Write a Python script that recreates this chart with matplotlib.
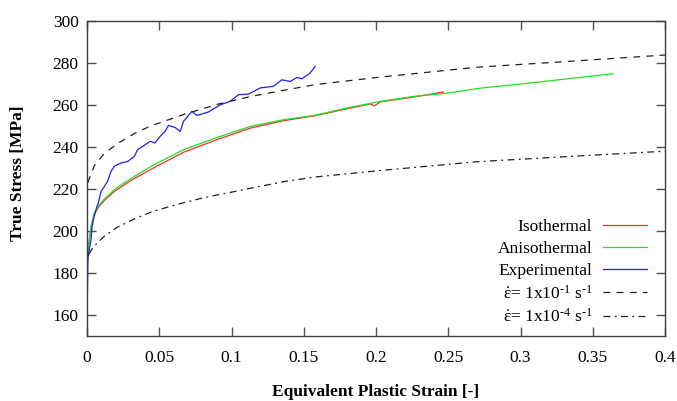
import matplotlib
matplotlib.use("Agg")
import matplotlib.pyplot as plt
from matplotlib.ticker import FuncFormatter

plt.rcParams['font.family'] = ['Liberation Serif', 'DejaVu Serif']
plt.rcParams['mathtext.fontset'] = 'custom'
plt.rcParams['mathtext.rm'] = 'Liberation Serif'
plt.rcParams['mathtext.it'] = 'Liberation Serif'
plt.rcParams['mathtext.bf'] = 'Liberation Serif:bold'

# ---------------- data ----------------
iso_strain = [0, 0.0028, 0.005, 0.0085, 0.012, 0.0189, 0.0258, 0.0327, 0.0465, 0.0668,
              0.0899, 0.113, 0.136, 0.157, 0.18, 0.196, 0.199, 0.203, 0.226, 0.2466]
iso_stress = [188, 202, 208, 211.8, 214.5, 218.8, 222, 225, 230.2, 237.5,
              243.5, 249, 252.5, 254.8, 258.2, 260.5, 259.6, 261.5, 263.8, 266.2]

aniso_strain = [0, 0.0028, 0.005, 0.0085, 0.012, 0.0189, 0.0258, 0.0327, 0.0465, 0.0668,
                0.0899, 0.113, 0.136, 0.157, 0.18, 0.203, 0.226, 0.249, 0.272, 0.311, 0.364]
aniso_stress = [186, 202.2, 208.6, 212.5, 215.2, 219.7, 222.9, 226, 231.6, 238.7,
                244.5, 249.8, 253, 255, 258.6, 261.7, 264.1, 265.6, 268, 270.8, 274.9]

exp_strain = [0, 0.0004, 0.0006, 0.0008, 0.0028, 0.0035, 0.005, 0.0069, 0.0078, 0.0097,
              0.012, 0.0142, 0.0166, 0.0189, 0.0235, 0.0281, 0.0327, 0.035, 0.0438, 0.047,
              0.0506, 0.054, 0.0564, 0.061, 0.0645, 0.0668, 0.0726, 0.076, 0.0841, 0.0922,
              0.099, 0.1048, 0.1118, 0.1198, 0.129, 0.1349, 0.1406, 0.1452, 0.1487, 0.1544, 0.1579]
exp_stress = [157.8, 175, 184.6, 187.9, 196, 202, 207, 211.7, 213.3, 218.9,
              221.2, 223.6, 228.4, 230.8, 232.4, 233.1, 235.5, 238.7, 242.7, 241.9,
              245, 247.4, 250.3, 249.3, 247.4, 252.2, 257, 255, 256.7, 260.1,
              261.7, 264.9, 265.2, 268.1, 268.9, 272.0, 271.2, 273.1, 272.5, 275.2, 278.4]

fast_strain = [0.0005, 0.005, 0.012, 0.018, 0.022, 0.033, 0.044, 0.067, 0.09, 0.113,
               0.136, 0.158, 0.203, 0.27, 0.334, 0.4]
fast_stress = [223, 231, 237, 240, 242, 246.5, 250, 255.5, 260.3, 264,
               267, 269.7, 273.3, 278, 280.8, 283.8]

slow_strain = [0.0015, 0.003, 0.006, 0.012, 0.021, 0.033, 0.045, 0.057, 0.068, 0.08,
               0.091, 0.103, 0.114, 0.126, 0.137, 0.159, 0.203, 0.27, 0.334, 0.4]
slow_stress = [189, 191, 193.5, 197.5, 201.8, 205.8, 209.2, 211.6, 213.7, 215.7,
               217.3, 218.9, 220.5, 222.1, 223.6, 225.8, 228.8, 233, 235.5, 238]

x_ticks = [0, 0.05, 0.1, 0.15, 0.2, 0.25, 0.3, 0.35, 0.4]
y_ticks = [160, 180, 200, 220, 240, 260, 280, 300]

labels = ['Isothermal', 'Anisothermal', 'Experimental',
          '$\\dot{\u03b5}$= 1x10$^{\u20101}$ s$^{\u20101}$',
          '$\\dot{\u03b5}$= 1x10$^{\u20104}$ s$^{\u20101}$']

# ---------------- figure ----------------
fig = plt.figure(figsize=(6.77, 4.01), dpi=100)
ax = fig.add_axes([87/677, 1-336/401, 578/677, 315/401])

h_iso, = ax.plot(iso_strain, iso_stress, color='#f03030', lw=0.9)
h_an, = ax.plot(aniso_strain, aniso_stress, color='#20e020', lw=0.9)
h_exp, = ax.plot(exp_strain, exp_stress, color='#2020f0', lw=0.9)
h_fast, = ax.plot(fast_strain, fast_stress, color='#202020', lw=0.9, dashes=(5.5, 5))
h_slow, = ax.plot(slow_strain, slow_stress, color='#202020', lw=0.9, dashes=(5.5, 3.5, 1.5, 3.5))

ax.set_xlim(0, 0.4)
ax.set_ylim(150, 300)
ax.set_xticks(x_ticks)
ax.set_yticks(y_ticks)
ax.xaxis.set_major_formatter(FuncFormatter(lambda v, p: '%g' % v))

for s in ax.spines.values():
    s.set_color('#404040')
    s.set_linewidth(1.0)

ax.tick_params(direction='in', length=6.5, width=1.0, color='#505050',
               top=True, right=True, labelsize=12.5)
ax.tick_params(axis='y', pad=6)
ax.tick_params(axis='x', pad=10)

ax.set_xlabel('Equivalent Plastic Strain [-]', fontsize=12.5, fontweight='bold')
ax.set_ylabel('True Stress [MPa]', fontsize=12.5, fontweight='bold')
ax.xaxis.label.set_va('center')
ax.xaxis.set_label_coords(0.5, (336-392)/315)
ax.yaxis.label.set_va('center')
ax.yaxis.set_label_coords((18-86.7)/578, 0.517)

leg = ax.legend([h_iso, h_an, h_exp, h_fast, h_slow], labels,
                loc='lower right', bbox_to_anchor=(647/677, (401-326)/401),
                bbox_transform=fig.transFigure, frameon=False, markerfirst=False,
                fontsize=12.5, handlelength=2.55, handletextpad=0.6,
                labelspacing=0.33, borderpad=0, borderaxespad=0)

fig.savefig('out.png', dpi=100)
